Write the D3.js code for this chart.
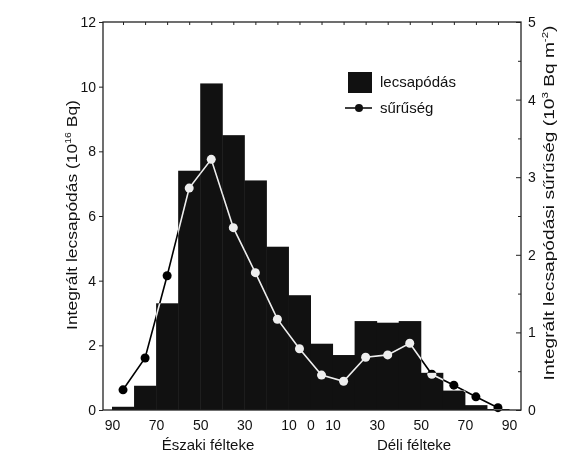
<!DOCTYPE html>
<html>
<head>
<meta charset="utf-8">
<script src="https://cdn.jsdelivr.net/npm/d3@7"></script>
<style>
  body { margin: 0; background: #fff; }
  text { font-family: "Liberation Sans", Arial, sans-serif; fill: #111; }
</style>
</head>
<body>
<script>
// latitude bands, 10 degrees each, from the north pole to the south pole (bin centres)
var binCenters = [85, 75, 65, 55, 45, 35, 25, 15, 5, -5, -15, -25, -35, -45, -55, -65, -75, -85];
// integrated deposition per band (10^16 Bq)
var deposition = [0.1, 0.75, 3.3, 7.4, 10.1, 8.5, 7.1, 5.05, 3.55, 2.05, 1.7, 2.75, 2.7, 2.75, 1.15, 0.6, 0.15, 0.03];
// deposition density per band (10^3 Bq m^-2)
var density = [0.26, 0.67, 1.73, 2.86, 3.23, 2.35, 1.77, 1.17, 0.79, 0.45, 0.37, 0.68, 0.71, 0.86, 0.46, 0.32, 0.17, 0.03];

var latTicks = [90, 70, 50, 30, 10, 0, -10, -30, -50, -70, -90];
var leftTicks = [0, 2, 4, 6, 8, 10, 12];
var rightTicks = [0, 1, 2, 3, 4, 5];
var rightMinor = [0.5, 1.5, 2.5, 3.5, 4.5];

var svg = d3.select("body").append("svg")
    .attr("width", 561)
    .attr("height", 456);

var plotL = 103, plotR = 521, plotT = 22, plotB = 410;

// x runs in degrees from the north pole
var x = d3.scaleLinear().domain([0, 180]).range([112, 509]);
var yL = d3.scaleLinear().domain([0, 12]).range([plotB, plotT]);
var yR = d3.scaleLinear().domain([0, 5]).range([plotB, plotT]);

function px(lat) { return x(90 - lat); }

// bars
svg.append("g").selectAll("rect")
    .data(deposition)
    .enter().append("rect")
    .attr("x", function(d, i) { return px(binCenters[i] + 5); })
    .attr("width", function(d, i) { return px(binCenters[i] - 5) - px(binCenters[i] + 5) + 0.5; })
    .attr("y", function(d) { return yL(d); })
    .attr("height", function(d) { return plotB - yL(d); })
    .attr("fill", "#111");

// density line, inverted over the bars like the printed figure
var line = d3.line()
    .x(function(d, i) { return px(binCenters[i]); })
    .y(function(d) { return yR(d); });

var lineG = svg.append("g").style("mix-blend-mode", "difference");
lineG.append("path")
    .datum(density)
    .attr("d", line)
    .attr("fill", "none")
    .attr("stroke", "#fff")
    .attr("stroke-width", 1.6);
lineG.selectAll("circle")
    .data(density)
    .enter().append("circle")
    .attr("cx", function(d, i) { return px(binCenters[i]); })
    .attr("cy", function(d) { return yR(d); })
    .attr("r", 4.5)
    .attr("fill", "#fff");

// frame
svg.append("rect")
    .attr("x", plotL).attr("y", plotT)
    .attr("width", plotR - plotL).attr("height", plotB - plotT)
    .attr("fill", "none").attr("stroke", "#222").attr("stroke-width", 1.3);

// left axis
var axL = svg.append("g")
    .attr("transform", "translate(" + plotL + ",0)")
    .call(d3.axisLeft(yL).tickValues(leftTicks).tickSizeInner(4).tickSizeOuter(0).tickPadding(3));

// right axis, ticks pointing inward
var axR = svg.append("g")
    .attr("transform", "translate(" + plotR + ",0)")
    .call(d3.axisRight(yR).tickValues(rightTicks).tickSizeInner(-5).tickSizeOuter(0).tickPadding(7)
        .tickFormat(d3.format("d")));
var axRm = svg.append("g")
    .attr("transform", "translate(" + plotR + ",0)")
    .call(d3.axisRight(yR).tickValues(rightMinor).tickSizeInner(-3).tickSizeOuter(0).tickFormat(""));

// top ticks at band centres
var axT = svg.append("g")
    .attr("transform", "translate(0," + plotT + ")")
    .call(d3.axisBottom(x).tickValues(binCenters.map(function(c) { return 90 - c; }))
        .tickSizeInner(3).tickSizeOuter(0).tickFormat(""));

// bottom labels
var axB = svg.append("g")
    .attr("transform", "translate(0," + plotB + ")")
    .call(d3.axisBottom(x).tickValues(latTicks.map(function(l) { return 90 - l; }))
        .tickSize(0).tickPadding(10)
        .tickFormat(function(d) { return Math.abs(90 - d); }));

[axL, axR, axRm, axT, axB].forEach(function(g) {
    g.select(".domain").remove();
    g.selectAll("line").attr("stroke", "#222");
    g.selectAll("text").style("font-size", "14px").style("font-family", "Liberation Sans, Arial, sans-serif").attr("fill", "#111");
});

// hemisphere labels
svg.append("text").attr("x", 208).attr("y", 450).attr("text-anchor", "middle")
    .style("font-size", "15px").text("Északi félteke");
svg.append("text").attr("x", 414).attr("y", 450).attr("text-anchor", "middle")
    .style("font-size", "15px").text("Déli félteke");

// axis titles, stretched along their length like the scanned figure
function stretchTitle(t, cx, cy, len) {
    var w = t.node().getComputedTextLength();
    t.attr("transform", "translate(" + cx + "," + cy + ") rotate(-90) scale(" + (len / w) + ",1)");
}

var tl = svg.append("text")
    .attr("text-anchor", "middle")
    .style("font-size", "15px");
tl.append("tspan").text("Integrált lecsapódás (10");
tl.append("tspan").attr("dy", -6).style("font-size", "9px").text("16");
tl.append("tspan").attr("dy", 6).text(" Bq)");
stretchTitle(tl, 77, 215, 230);

var tr = svg.append("text")
    .attr("text-anchor", "middle")
    .style("font-size", "15px");
tr.append("tspan").text("Integrált lecsapódási sűrűség (10");
tr.append("tspan").attr("dy", -6).style("font-size", "9px").text("3");
tr.append("tspan").attr("dy", 6).text(" Bq m");
tr.append("tspan").attr("dy", -6).style("font-size", "9px").text("-2");
tr.append("tspan").attr("dy", 6).text(")");
stretchTitle(tr, 554, 203, 355);

// legend
var lg = svg.append("g");
lg.append("rect").attr("x", 348).attr("y", 72).attr("width", 24).attr("height", 21).attr("fill", "#111");
lg.append("text").attr("x", 380).attr("y", 87).style("font-size", "15px").text("lecsapódás");
lg.append("line").attr("x1", 345).attr("x2", 372).attr("y1", 108).attr("y2", 108)
    .attr("stroke", "#111").attr("stroke-width", 1.6);
lg.append("circle").attr("cx", 359).attr("cy", 108).attr("r", 4).attr("fill", "#111");
lg.append("text").attr("x", 380).attr("y", 113).style("font-size", "15px").text("sűrűség");
</script>
</body>
</html>
